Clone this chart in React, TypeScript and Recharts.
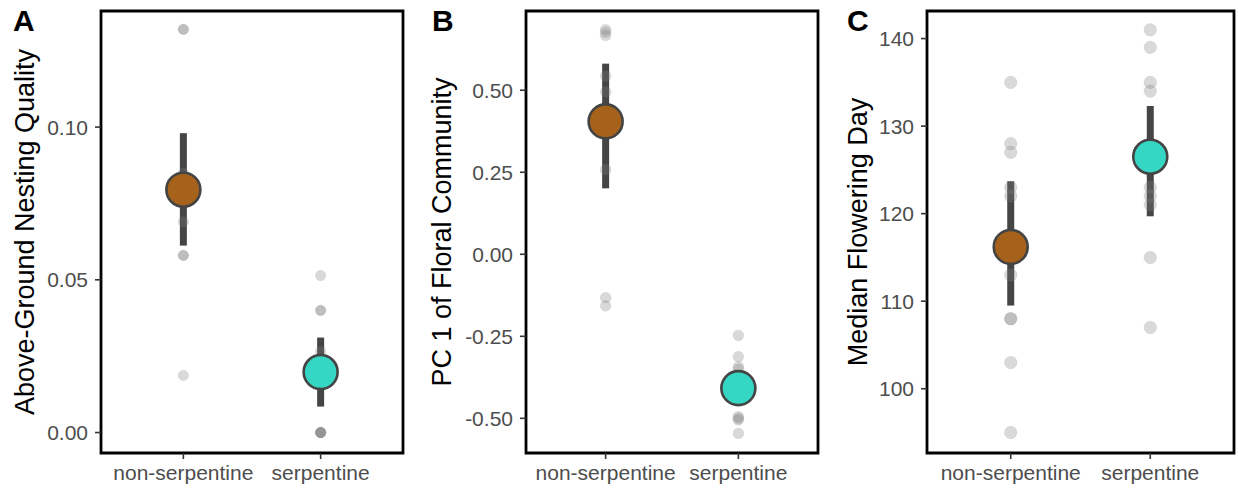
import { ScatterChart, Scatter, XAxis, YAxis, ErrorBar, ReferenceArea } from 'recharts';

const categories = ['non-serpentine', 'serpentine'];

// A: above-ground nesting quality
const nestNonSerp = [0.132, 0.132, 0.085, 0.069, 0.058, 0.058, 0.0187];
const nestSerp = [0.0514, 0.04, 0.04, 0.0265, 0, 0, 0, 0, 0];
const nestMean = [0.0795, 0.0198];
const nestLow = [0.0612, 0.0085];
const nestHigh = [0.098, 0.0311];
const nestTicks = [0, 0.05, 0.1];

// B: PC 1 of floral community
const pcNonSerp = [0.685, 0.677, 0.667, 0.543, 0.495, 0.258, -0.132, -0.157];
const pcSerp = [-0.247, -0.312, -0.343, -0.35, -0.495, -0.5, -0.505, -0.546];
const pcMean = [0.405, -0.408];
const pcLow = [0.201, -0.459];
const pcHigh = [0.581, -0.365];
const pcTicks = [-0.5, -0.25, 0, 0.25, 0.5];

// C: median flowering day
const dayNonSerp = [135, 128, 127, 123, 122, 113, 108, 108, 103, 95];
const daySerp = [141, 139, 135, 134, 123, 122, 121, 115, 107];
const dayMean = [116.2, 126.5];
const dayLow = [109.5, 119.7];
const dayHigh = [123.7, 132.3];
const dayTicks = [100, 110, 120, 130, 140];

const groupColors = ['#A6611A', '#35D6C4'];
const FONT = '"Liberation Sans", Arial, Helvetica, sans-serif';
const H = 489;
const TOP = 11;
const BOTTOM = 453;

type PanelProps = {
  letter: string;
  title: string;
  left: number;
  width: number;
  plotLeft: number;
  plotRight: number;
  titleX: number;
  letterX: number;
  domain: [number, number];
  ticks: number[];
  fmt: (v: number) => string;
  nonSerp: number[];
  serp: number[];
  mean: number[];
  low: number[];
  high: number[];
  pointR: number;
};

function Panel(p: PanelProps) {
  const points = [
    ...p.nonSerp.map((y) => ({ x: 1, y })),
    ...p.serp.map((y) => ({ x: 2, y })),
  ];
  const means = p.mean.map((m, i) => ({
    x: i + 1,
    y: m,
    err: [m - p.low[i], p.high[i] - m],
    fill: groupColors[i],
  }));
  const yAxisW = 60;
  const midY = (TOP + BOTTOM) / 2;

  return (
    <div style={{ position: 'absolute', left: p.left, top: 0, width: p.width, height: H }}>
      <ScatterChart
        width={p.width}
        height={H}
        margin={{ top: TOP, right: p.width - p.plotRight, bottom: H - BOTTOM - 30, left: p.plotLeft - yAxisW }}
        style={{ fontFamily: FONT }}
      >
        <XAxis
          type="number"
          dataKey="x"
          domain={[0.4, 2.6]}
          ticks={[1, 2]}
          interval={0}
          allowDataOverflow
          tickFormatter={(v: number) => categories[v - 1]}
          axisLine={{ stroke: '#000', strokeWidth: 1.5 }}
          tickLine={{ stroke: '#333', strokeWidth: 1.6 }}
          tickSize={6}
          tickMargin={6}
          height={30}
          tick={{ fontSize: 21, fill: '#4d4d4d', fontFamily: FONT }}
        />
        <YAxis
          type="number"
          dataKey="y"
          domain={p.domain}
          ticks={p.ticks}
          interval={0}
          allowDataOverflow
          tickFormatter={p.fmt}
          axisLine={{ stroke: '#000', strokeWidth: 1.5 }}
          tickLine={{ stroke: '#333', strokeWidth: 1.6 }}
          tickSize={6}
          tickMargin={7}
          width={yAxisW}
          tick={{ fontSize: 21, fill: '#4d4d4d', fontFamily: FONT }}
          label={{
            content: () => (
              <text
                x={p.titleX}
                y={midY}
                transform={`rotate(-90, ${p.titleX}, ${midY})`}
                textAnchor="middle"
                fontSize={27}
                fill="#000"
                fontFamily={FONT}
              >
                {p.title}
              </text>
            ),
          }}
        />
        <ReferenceArea
          x1={0.4}
          x2={2.6}
          y1={p.domain[0]}
          y2={p.domain[1]}
          fill="none"
          stroke="#000"
          strokeWidth={2.8}
          ifOverflow="visible"
        />
        <Scatter
          data={points}
          isAnimationActive={false}
          shape={(s: any) => (
            <circle cx={s.cx} cy={s.cy} r={p.pointR} fill="#808080" fillOpacity={0.3} stroke="#808080" strokeOpacity={0.12} strokeWidth={1} />
          )}
        />
        <Scatter
          data={means}
          isAnimationActive={false}
          shape={(s: any) => (
            <circle cx={s.cx} cy={s.cy} r={17} fill={s.payload?.fill} stroke="#444" strokeWidth={2.6} />
          )}
        >
          <ErrorBar dataKey="err" direction="y" width={0} strokeWidth={7} stroke="#454545" />
        </Scatter>
      </ScatterChart>
      <div
        style={{
          position: 'absolute',
          left: p.letterX,
          top: 6,
          fontFamily: FONT,
          fontWeight: 'bold',
          fontSize: 30,
          lineHeight: '30px',
          color: '#000',
        }}
      >
        {p.letter}
      </div>
    </div>
  );
}

export default function App() {
  return (
    <div style={{ position: 'absolute', left: 0, top: 0, width: 1238, height: H, background: '#fff' }}>
      <Panel
        letter="A"
        title="Above-Ground Nesting Quality"
        left={0}
        width={420}
        plotLeft={101}
        plotRight={403}
        titleX={34}
        letterX={13}
        domain={[-0.0067, 0.138]}
        ticks={nestTicks}
        fmt={(v) => v.toFixed(2)}
        nonSerp={nestNonSerp}
        serp={nestSerp}
        mean={nestMean}
        low={nestLow}
        high={nestHigh}
        pointR={5.2}
      />
      <Panel
        letter="B"
        title="PC 1 of Floral Community"
        left={420}
        width={420}
        plotLeft={106}
        plotRight={398}
        titleX={31}
        letterX={12}
        domain={[-0.6057, 0.7415]}
        ticks={pcTicks}
        fmt={(v) => v.toFixed(2)}
        nonSerp={pcNonSerp}
        serp={pcSerp}
        mean={pcMean}
        low={pcLow}
        high={pcHigh}
        pointR={5.4}
      />
      <Panel
        letter="C"
        title="Median Flowering Day"
        left={830}
        width={408}
        plotLeft={97}
        plotRight={404}
        titleX={37}
        letterX={17}
        domain={[92.66, 143.15]}
        ticks={dayTicks}
        fmt={(v) => String(v)}
        nonSerp={dayNonSerp}
        serp={daySerp}
        mean={dayMean}
        low={dayLow}
        high={dayHigh}
        pointR={6.3}
      />
    </div>
  );
}
